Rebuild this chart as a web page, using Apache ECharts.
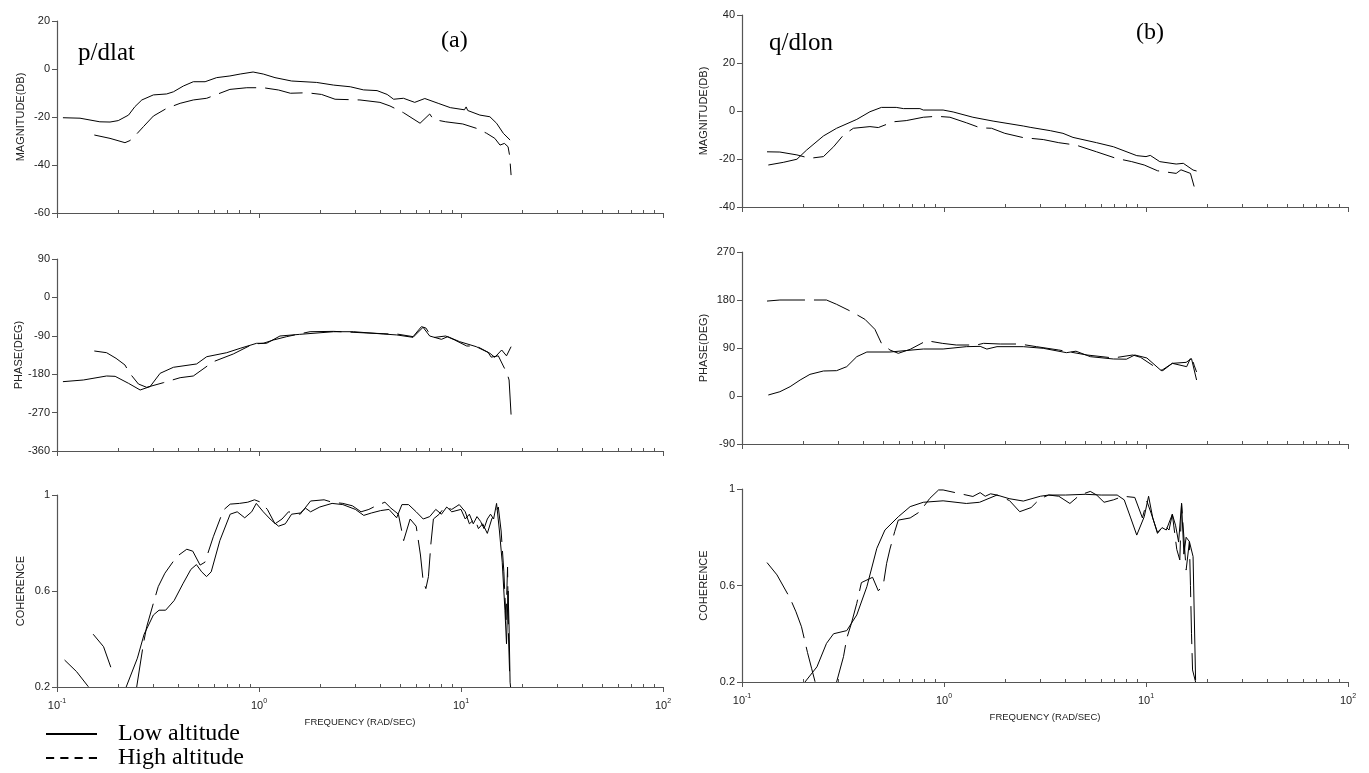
<!DOCTYPE html>
<html>
<head>
<meta charset="utf-8">
<script src="https://cdn.jsdelivr.net/npm/echarts@6/dist/echarts.min.js"></script>
<style>
html,body{margin:0;padding:0;background:#fff;}
#main{width:1369px;height:773px;}
</style>
</head>
<body>
<div id="main"></div>
<script>
// (a) p/dlat  —  [frequency rad/s, value]
var pdlatMagLow = [[0.107,-20.3],[0.13,-20.5],[0.163,-22.0],[0.183,-22.1],[0.201,-21.5],[0.226,-19.2],[0.243,-15.7],[0.263,-12.9],[0.30,-10.8],[0.349,-10.4],[0.377,-9.5],[0.422,-7.1],[0.473,-5.3],[0.541,-5.3],[0.617,-3.6],[0.718,-2.9],[0.807,-2.1],[0.935,-1.25],[1.05,-2.1],[1.2,-3.6],[1.45,-5.0],[1.93,-5.6],[2.34,-6.7],[2.83,-7.4],[3.29,-8.7],[3.84,-9.0],[4.31,-10.6],[4.64,-12.6],[5.19,-12.2],[5.9,-13.9],[6.62,-12.3],[7.71,-14.3],[8.85,-16.1],[10.4,-17.0],[10.6,-15.8],[10.8,-17.3],[12.4,-19.2],[13.9,-19.9],[15.0,-22.6],[16.2,-26.8],[17.5,-29.6]];
var pdlatMagHigh = [[0.153,-27.5],[0.183,-28.9],[0.217,-30.7],[0.23,-29.8],[0.243,-27.9],[0.268,-24.0],[0.30,-19.6],[0.349,-16.4],[0.407,-14.3],[0.473,-12.9],[0.551,-12.2],[0.718,-8.5],[0.87,-7.8],[1.05,-7.8],[1.25,-8.75],[1.43,-10.1],[1.73,-9.9],[2.04,-10.6],[2.38,-12.6],[3.16,-12.9],[3.97,-13.9],[4.45,-15.4],[5.19,-18.2],[6.27,-22.6],[7.0,-18.75],[7.3,-21],[8.4,-22.0],[10.2,-22.9],[11.9,-24.7],[13.4,-26.8],[14.7,-28.9],[15.6,-31.7],[16.4,-31.0],[17.1,-32.4],[17.4,-36],[17.7,-44.2]];
var pdlatPhaseLow = [[0.107,-197.5],[0.135,-193.6],[0.176,-184.2],[0.194,-185],[0.226,-201.4],[0.258,-217],[0.289,-209],[0.324,-177.9],[0.377,-163.8],[0.491,-156],[0.551,-139],[0.692,-129.6],[0.807,-119.3],[0.973,-107.6],[1.09,-107.6],[1.27,-90.5],[1.59,-86.6],[2.34,-80.4],[2.94,-80.4],[4.12,-85.8],[4.81,-88],[5.79,-93.6],[6.49,-70],[7.0,-90.5],[8.0,-98.3],[8.6,-92],[9.84,-103.7],[11.9,-115.5],[13.9,-131],[14.7,-140.4],[15.9,-123.3],[16.8,-137],[17.7,-115.5]];
var pdlatPhaseHigh = [[0.153,-125.6],[0.176,-129.6],[0.196,-142.8],[0.217,-158.4],[0.228,-176.4],[0.253,-203],[0.278,-210.8],[0.336,-199.9],[0.407,-188.2],[0.473,-184.2],[0.594,-150.7],[0.746,-132.6],[0.935,-109.2],[1.05,-107.6],[1.18,-99.8],[1.37,-92],[1.79,-80.4],[2.34,-79.6],[3.42,-83.4],[4.5,-85.8],[4.81,-85.8],[5.79,-92],[6.37,-68.6],[6.7,-71.7],[7.2,-94.4],[8.4,-90.5],[9.3,-99.8],[10.67,-113.9],[11.9,-114],[13.6,-128.5],[14.1,-140],[15.3,-137],[16.2,-160.8],[16.9,-177.9],[17.3,-193.6],[17.7,-275.6]];
var pdlatCohLow = [[0.22,0.2],[0.25,0.32],[0.27,0.42],[0.30,0.50],[0.32,0.52],[0.345,0.52],[0.38,0.56],[0.42,0.63],[0.46,0.69],[0.49,0.71],[0.52,0.68],[0.55,0.66],[0.58,0.68],[0.64,0.81],[0.72,0.92],[0.78,0.93],[0.85,0.905],[0.92,0.93],[0.97,0.965],[1.05,0.93],[1.15,0.895],[1.25,0.87],[1.35,0.88],[1.45,0.92],[1.6,0.925],[1.7,0.945],[1.8,0.93],[2.0,0.95],[2.3,0.965],[2.6,0.96],[3.0,0.94],[3.3,0.915],[3.6,0.925],[4.0,0.935],[4.4,0.94],[4.8,0.905],[5.1,0.96],[5.5,0.96],[6,0.93],[6.5,0.9],[7,0.91],[7.5,0.94],[8,0.92],[8.5,0.95],[9,0.93],[10,0.94],[10.5,0.9],[11,0.92],[11.5,0.88],[12,0.91],[12.5,0.89],[13,0.86],[13.5,0.9],[14,0.92],[14.5,0.9],[15,0.965],[15.5,0.85],[16,0.72],[16.5,0.52],[16.8,0.38],[17.1,0.6],[17.3,0.45],[17.5,0.22],[17.6,0.2]];
var pdlatCohHigh = [[0.109,0.3125],[0.125,0.264],[0.143,0.201],[0.147,null],[0.151,0.42],[0.17,0.368],[0.188,0.264],[0.22,null],[0.248,0.2],[0.268,0.382],[0.278,0.451],[0.30,0.549],[0.317,0.618],[0.342,0.674],[0.391,0.743],[0.439,0.774],[0.47,0.766],[0.511,0.708],[0.54,0.72],[0.594,0.826],[0.667,0.9375],[0.72,0.962],[0.8,0.965],[0.88,0.97],[0.95,0.98],[1.02,0.97],[1.1,0.94],[1.2,0.88],[1.3,0.9],[1.4,0.93],[1.6,0.92],[1.8,0.975],[2.1,0.98],[2.3,0.97],[2.6,0.965],[2.9,0.955],[3.2,0.93],[3.5,0.94],[3.8,0.955],[4.2,0.97],[4.5,0.945],[4.9,0.92],[5.2,0.81],[5.6,0.9],[6.0,0.87],[6.3,0.75],[6.5,0.64],[6.7,0.61],[6.9,0.66],[7.1,0.8],[7.3,0.9],[7.8,0.92],[8.3,0.95],[9,0.94],[9.8,0.96],[10.5,0.93],[11,0.88],[11.7,0.9],[12.2,0.86],[12.8,0.88],[13.5,0.84],[14.2,0.9],[15.3,0.95],[15.8,0.85],[16.3,0.68],[16.7,0.48],[17.0,0.7],[17.2,0.4],[17.4,0.26]];

// (b) q/dlon
var qdlonMagLow = [[0.135,-22.5],[0.16,-21.4],[0.187,-20.1],[0.209,-16.25],[0.253,-10.4],[0.294,-7.2],[0.37,-3.5],[0.43,-0.3],[0.49,1.5],[0.58,1.5],[0.63,1.0],[0.76,1.0],[0.79,0.4],[0.99,0.4],[1.11,-0.4],[1.39,-2.6],[1.75,-4.2],[2.47,-6.25],[2.67,-6.8],[3.36,-8.2],[3.88,-9.3],[4.35,-11.0],[5.69,-13.2],[6.9,-14.9],[9.0,-18.6],[10.0,-19.0],[10.5,-18.5],[11.7,-21.1],[14.1,-22.1],[15.3,-21.8],[17.1,-24.6],[17.8,-25]];
var qdlonMagHigh = [[0.133,-17.0],[0.154,-17.1],[0.187,-18.3],[0.217,-19.7],[0.253,-19.0],[0.284,-14.9],[0.318,-10.0],[0.356,-7.2],[0.43,-6.5],[0.473,-6.9],[0.56,-4.5],[0.65,-4.0],[0.79,-2.6],[0.92,-2.2],[1.07,-2.6],[1.29,-4.9],[1.51,-7.0],[1.72,-7.2],[2.0,-9.3],[2.47,-11.1],[3.1,-11.9],[3.7,-13.2],[4.5,-14.2],[5.69,-17.0],[7.1,-19.7],[8.5,-21.1],[9.8,-22.5],[11.4,-24.9],[14.1,-26.0],[14.9,-24.5],[16.6,-26],[17.6,-33.6]];
var qdlonPhaseLow = [[0.135,1.9],[0.154,8],[0.173,17.5],[0.194,30],[0.217,40.6],[0.253,46.9],[0.294,47.5],[0.33,55],[0.37,73.75],[0.415,82.5],[0.54,82.5],[0.79,88.1],[0.99,88.1],[1.29,92.5],[1.51,93.1],[1.63,88],[1.83,92.5],[2.47,92.5],[3.1,89.4],[4.04,81.25],[4.5,84],[5.3,73.75],[6.9,69.4],[8.0,69],[8.8,76.9],[10.1,71.3],[11.9,47.5],[13.5,61.25],[15.8,63.1],[16.8,70],[17.8,30]];
var qdlonPhaseHigh = [[0.133,178],[0.154,180],[0.221,180],[0.262,180],[0.294,171.9],[0.343,159.4],[0.406,143.8],[0.455,125],[0.49,98.8],[0.54,86.25],[0.594,80],[0.68,87.5],[0.82,103.75],[0.98,98.75],[1.15,95.6],[1.45,95.6],[1.57,98.75],[1.9,97.5],[2.37,97.5],[2.87,92.5],[3.7,86.25],[5.1,76.9],[6.9,71.3],[8.6,76.9],[9.4,72.5],[10.9,56.25],[12.1,47.5],[13.5,61.25],[15.9,55],[16.8,75],[17.3,58],[17.8,45]];
var qdlonCohLow = [[0.205,0.2],[0.235,0.263],[0.262,0.36],[0.284,0.4],[0.33,0.413],[0.37,0.478],[0.415,0.595],[0.465,0.754],[0.51,0.83],[0.594,0.885],[0.68,0.927],[0.79,0.945],[0.99,0.951],[1.29,0.94],[1.5,0.945],[1.83,0.975],[2.1,0.96],[2.47,0.95],[3.0,0.97],[3.3,0.975],[4.0,0.975],[5.0,0.978],[6.0,0.975],[7.2,0.975],[7.8,0.955],[8.4,0.88],[9.0,0.809],[9.8,0.885],[10.3,0.97],[10.8,0.88],[11.4,0.816],[12.0,0.84],[12.6,0.83],[13.5,0.895],[14.0,0.85],[14.5,0.78],[15.0,0.94],[15.4,0.73],[15.8,0.8],[16.4,0.782],[17.1,0.72],[17.6,0.208]];
var qdlonCohHigh = [[0.133,0.695],[0.149,0.644],[0.173,0.547],[0.185,0.491],[0.197,0.429],[0.211,0.322],[0.221,0.257],[0.23,0.201],[0.26,null],[0.294,0.2],[0.318,0.305],[0.33,0.381],[0.348,0.443],[0.37,0.526],[0.39,0.612],[0.443,0.634],[0.473,0.578],[0.5,0.6],[0.52,0.692],[0.54,0.751],[0.57,0.823],[0.594,0.871],[0.68,0.88],[0.76,0.906],[0.85,0.961],[0.94,0.996],[0.99,0.996],[1.18,0.982],[1.39,0.969],[1.51,0.985],[1.6,0.97],[1.7,0.98],[1.83,0.975],[2.11,0.952],[2.37,0.906],[2.7,0.923],[2.99,0.96],[3.3,0.975],[3.7,0.97],[4.2,0.94],[4.7,0.975],[5.3,0.99],[5.7,0.975],[6.2,0.945],[6.9,0.955],[7.7,0.97],[8.8,0.965],[9.6,0.88],[10.1,0.95],[10.6,0.9],[11.4,0.82],[12.3,0.85],[13.0,0.83],[13.5,0.895],[14.2,0.75],[14.7,0.706],[15.0,0.94],[15.8,0.664],[16.4,0.782],[16.6,0.6],[16.8,0.4],[17.0,0.25],[17.6,0.2]];

var magTicksA = [-60, 20, 20];      // min, max, step
var phaseTicksA = [-360, 90, 90];
var magTicksB = [-40, 40, 20];
var phaseTicksB = [-90, 270, 90];
var cohTicks = [0.2, 0.6, 1];

var sansFont = "Arial, 'Liberation Sans', sans-serif";
var serifFont = "'Times New Roman', 'Liberation Serif', serif";
var axisColor = '#555';

var grids = [
  {left: 57, top: 21, width: 606, height: 192},
  {left: 57, top: 259, width: 606, height: 192},
  {left: 57, top: 495, width: 606, height: 192},
  {left: 742, top: 15, width: 606, height: 192},
  {left: 742, top: 252, width: 606, height: 192},
  {left: 742, top: 489, width: 606, height: 193}
];

var panels = [
  {low: pdlatMagLow, high: pdlatMagHigh, ticks: magTicksA, name: 'MAGNITUDE(DB)', gap: 31},
  {low: pdlatPhaseLow, high: pdlatPhaseHigh, ticks: phaseTicksA, name: 'PHASE(DEG)', gap: 31},
  {low: pdlatCohLow, high: pdlatCohHigh, ticks: null, name: 'COHERENCE', gap: 31, bottom: true},
  {low: qdlonMagLow, high: qdlonMagHigh, ticks: magTicksB, name: 'MAGNITUDE(DB)', gap: 33},
  {low: qdlonPhaseLow, high: qdlonPhaseHigh, ticks: phaseTicksB, name: 'PHASE(DEG)', gap: 33},
  {low: qdlonCohLow, high: qdlonCohHigh, ticks: null, name: 'COHERENCE', gap: 33, bottom: true}
];

var xAxes = [], yAxes = [], series = [];

for (var i = 0; i < panels.length; i++) {
  var p = panels[i];
  // main log axis (major ticks outward, labels on bottom row)
  xAxes.push({
    type: 'log', logBase: 10, min: 0.1, max: 100, gridIndex: i, position: 'bottom',
    axisLine: {onZero: false, lineStyle: {color: axisColor, width: 1}},
    axisTick: {show: true, length: 5, lineStyle: {color: axisColor}},
    splitLine: {show: false},
    axisLabel: {
      show: !!p.bottom, margin: 11, color: '#222', fontFamily: sansFont,
      formatter: function (v) {
        return '{b|10}{s|' + Math.round(Math.log(v) / Math.LN10) + '}';
      },
      rich: {
        b: {fontSize: 11, color: '#222', fontFamily: sansFont},
        s: {fontSize: 7, color: '#222', fontFamily: sansFont, padding: [0, 0, 9, 0]}
      }
    },
    name: p.bottom ? 'FREQUENCY (RAD/SEC)' : '',
    nameLocation: 'middle', nameGap: 30,
    nameTextStyle: {fontSize: 9.5, color: '#222', fontFamily: sansFont}
  });
  // overlay axis just for the small inside minor ticks
  xAxes.push({
    type: 'log', logBase: 10, min: 0.1, max: 100, gridIndex: i, position: 'bottom',
    axisLine: {show: false, onZero: false},
    axisTick: {show: false, inside: true},
    minorTick: {show: true, splitNumber: 9, length: 3, lineStyle: {color: axisColor, width: 1}},
    axisLabel: {show: false},
    splitLine: {show: false}
  });

  var y = {
    type: 'value', gridIndex: i,
    axisLine: {show: true, onZero: false, lineStyle: {color: axisColor, width: 1.2}},
    axisTick: {show: true, length: 5, lineStyle: {color: axisColor}},
    splitLine: {show: false},
    axisLabel: {fontSize: 11, color: '#222', margin: 7, fontFamily: sansFont},
    name: p.name, nameLocation: 'middle', nameGap: p.gap,
    nameTextStyle: {fontSize: 11, color: '#222', fontFamily: sansFont}
  };
  if (p.ticks) {
    y.min = p.ticks[0]; y.max = p.ticks[1]; y.interval = p.ticks[2];
  } else {
    y.min = cohTicks[0]; y.max = cohTicks[cohTicks.length - 1];
    y.axisLabel.customValues = cohTicks;
    y.axisTick.customValues = cohTicks;
  }
  yAxes.push(y);

  series.push({
    name: 'Low altitude', type: 'line', xAxisIndex: i * 2, yAxisIndex: i,
    data: p.low, symbol: 'none', connectNulls: false,
    lineStyle: {color: '#000', width: 1}
  });
  series.push({
    name: 'High altitude', type: 'line', xAxisIndex: i * 2, yAxisIndex: i,
    data: p.high, symbol: 'none', connectNulls: false,
    lineStyle: {color: '#000', width: 1, type: [38, 9]}
  });
}

var myChart = echarts.init(document.getElementById('main'));
myChart.setOption({
  animation: false,
  backgroundColor: '#fff',
  color: ['#000', '#000'],
  title: [
    {text: 'p/dlat', left: 78, top: 41, padding: 0, textStyle: {fontFamily: serifFont, fontWeight: 'normal', fontSize: 25, color: '#000'}},
    {text: '(a)', left: 441, top: 29, padding: 0, textStyle: {fontFamily: serifFont, fontWeight: 'normal', fontSize: 24, color: '#000'}},
    {text: 'q/dlon', left: 769, top: 31, padding: 0, textStyle: {fontFamily: serifFont, fontWeight: 'normal', fontSize: 25, color: '#000'}},
    {text: '(b)', left: 1136, top: 21, padding: 0, textStyle: {fontFamily: serifFont, fontWeight: 'normal', fontSize: 24, color: '#000'}}
  ],
  legend: {
    orient: 'vertical', left: 46, top: 722, padding: 0,
    itemWidth: 51, itemHeight: 2, itemGap: 0, symbolKeepAspect: false,
    textStyle: {fontFamily: serifFont, fontSize: 24, color: '#000', padding: [0, 0, 0, 16]},
    data: [
      {name: 'Low altitude', icon: 'rect'},
      {name: 'High altitude', icon: 'path://M0,0h8v2h-8z M14,0h8v2h-8z M28,0h8v2h-8z M42,0h8v2h-8z'}
    ]
  },
  grid: grids,
  xAxis: xAxes,
  yAxis: yAxes,
  series: series
});
</script>
</body>
</html>
